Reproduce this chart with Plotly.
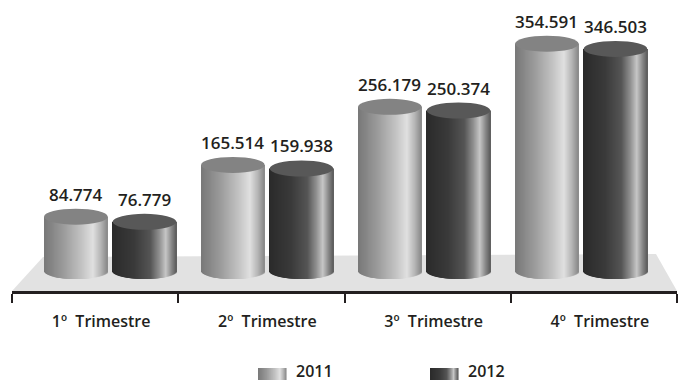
import numpy as np
import plotly.graph_objects as go

# ---- data ----
categories = ["1º\u00a0 Trimestre", "2º\u00a0 Trimestre", "3º\u00a0 Trimestre", "4º\u00a0 Trimestre"]
series_names = ["2011", "2012"]
values_2011 = [84774, 165514, 256179, 354591]
values_2012 = [76779, 159938, 250374, 346503]

W, H = 680, 382
TXT = "#231f20"
FONT = "Open Sans"

def px_x(p):
    return p / W

def px_y(p):
    return 1 - p / H

def grey(g):
    g = int(round(max(0, min(255, g))))
    return f"rgb({g},{g},{g})"

def interp(stops, t):
    ts = [s[0] for s in stops]
    gs = [s[1] for s in stops]
    return float(np.interp(t, ts, gs))

grad = {
    "2011": [(0, 0x78), (0.3, 0x98), (0.6, 0xc2), (0.78, 0xe0), (0.9, 0xb6), (1, 0x8a)],
    "2012": [(0, 0x2a), (0.35, 0x3a), (0.6, 0x55), (0.74, 0x90), (0.84, 0xc6), (0.93, 0x88), (1, 0x5c)],
}
top_color = {"2011": "#838383", "2012": "#585858"}

# geometry (style)
bar_w = 0.405
offsets = {"2011": -0.42, "2012": 0.017}
E = 12500  # ellipse semi-height in data units
N = 64

fig = go.Figure()
series = {"2011": values_2011, "2012": values_2012}
xs = list(range(len(categories)))

# anchor trace so the category axis is drawn
fig.add_trace(go.Scatter(x=xs, y=[0] * len(xs), mode="markers", marker=dict(opacity=0),
                         xaxis="x", yaxis="y", showlegend=False, hoverinfo="skip"))

shapes = []
# floor
floor_pts = [(12, 291), (677, 291), (656, 254), (43, 257)]
path = "M " + " L ".join(f"{px_x(a):.5f},{px_y(b):.5f}" for a, b in floor_pts) + " Z"
shapes.append(dict(type="path", xref="paper", yref="paper", path=path,
                   fillcolor="#e2e2e2", line=dict(width=0), layer="below"))

for name in series_names:
    vals = series[name]
    sw = bar_w / N
    for k in range(N):
        u = -1 + (2 * k + 1) / N
        t = (k + 0.5) / N
        base = -E * np.sqrt(max(0.0, 1 - u * u))
        wk = sw * (2.0 if k < N - 1 else 1.0)
        fig.add_trace(go.Bar(
            x=xs, y=[v - base for v in vals], base=base,
            offset=offsets[name] + k * sw, width=wk,
            marker=dict(color=grey(interp(grad[name], t)), line=dict(width=0)),
            xaxis="x2", yaxis="y", showlegend=False, hoverinfo="skip",
        ))
    for i, v in enumerate(vals):
        shapes.append(dict(type="circle", xref="x2", yref="y",
                           x0=i + offsets[name], x1=i + offsets[name] + bar_w,
                           y0=v - E, y1=v + E,
                           fillcolor=top_color[name], line=dict(width=0), layer="above"))

annotations = []
for name in series_names:
    for i, v in enumerate(series[name]):
        annotations.append(dict(
            x=i + offsets[name] + bar_w / 2, y=v, xref="x2", yref="y",
            text=f"{v:,}".replace(",", "."), showarrow=False,
            yanchor="bottom", yshift=9,
            font=dict(family=FONT, size=17, color=TXT, weight=600)))

# legend (manual, gradient swatches)
leg = [("2011", 258, 294), ("2012", 430, 466)]
for name, sx, tx in leg:
    n = 28
    for k in range(n):
        t = (k + 0.5) / n
        shapes.append(dict(type="rect", xref="paper", yref="paper",
                           x0=px_x(sx + k * 28 / n), x1=px_x(sx + (k + 1.6) * 28 / n),
                           y0=px_y(380), y1=px_y(368),
                           fillcolor=grey(interp(grad[name], t)), line=dict(width=0)))
    annotations.append(dict(x=px_x(tx), y=px_y(370.5), xref="paper", yref="paper",
                            text=name, showarrow=False, xanchor="left", yanchor="middle",
                            font=dict(family=FONT, size=16, color=TXT, weight=600)))

fig.update_layout(
    width=W, height=H,
    margin=dict(l=0, r=0, t=0, b=0),
    paper_bgcolor="white", plot_bgcolor="rgba(0,0,0,0)",
    barmode="overlay",
    showlegend=False,
    xaxis=dict(domain=[12 / W, 677 / W], range=[-0.5, 3.5],
               tickmode="array", tickvals=xs, ticktext=categories, ticks="",
               showline=True, linewidth=2.5, linecolor=TXT, showgrid=False, zeroline=False,
               ticklabelstandoff=14, ticklabelshift=6,
               tickfont=dict(family=FONT, size=16, color=TXT, weight=600),
               minor=dict(tickmode="array", tickvals=[-0.5, 0.5, 1.5, 2.5, 3.5],
                          ticks="outside", ticklen=9, tickwidth=2, tickcolor=TXT, showgrid=False),
               fixedrange=True),
    xaxis2=dict(domain=[12 / W, 677 / W], overlaying="x", anchor="y",
                range=[(12 - 110) / 157, (677 - 110) / 157],
                visible=False, fixedrange=True),
    yaxis=dict(domain=[1 - 291 / H, 1], range=[-31200, 422800], visible=False,
               fixedrange=True),
    shapes=shapes,
    annotations=annotations,
)

fig.write_html("out.html")
